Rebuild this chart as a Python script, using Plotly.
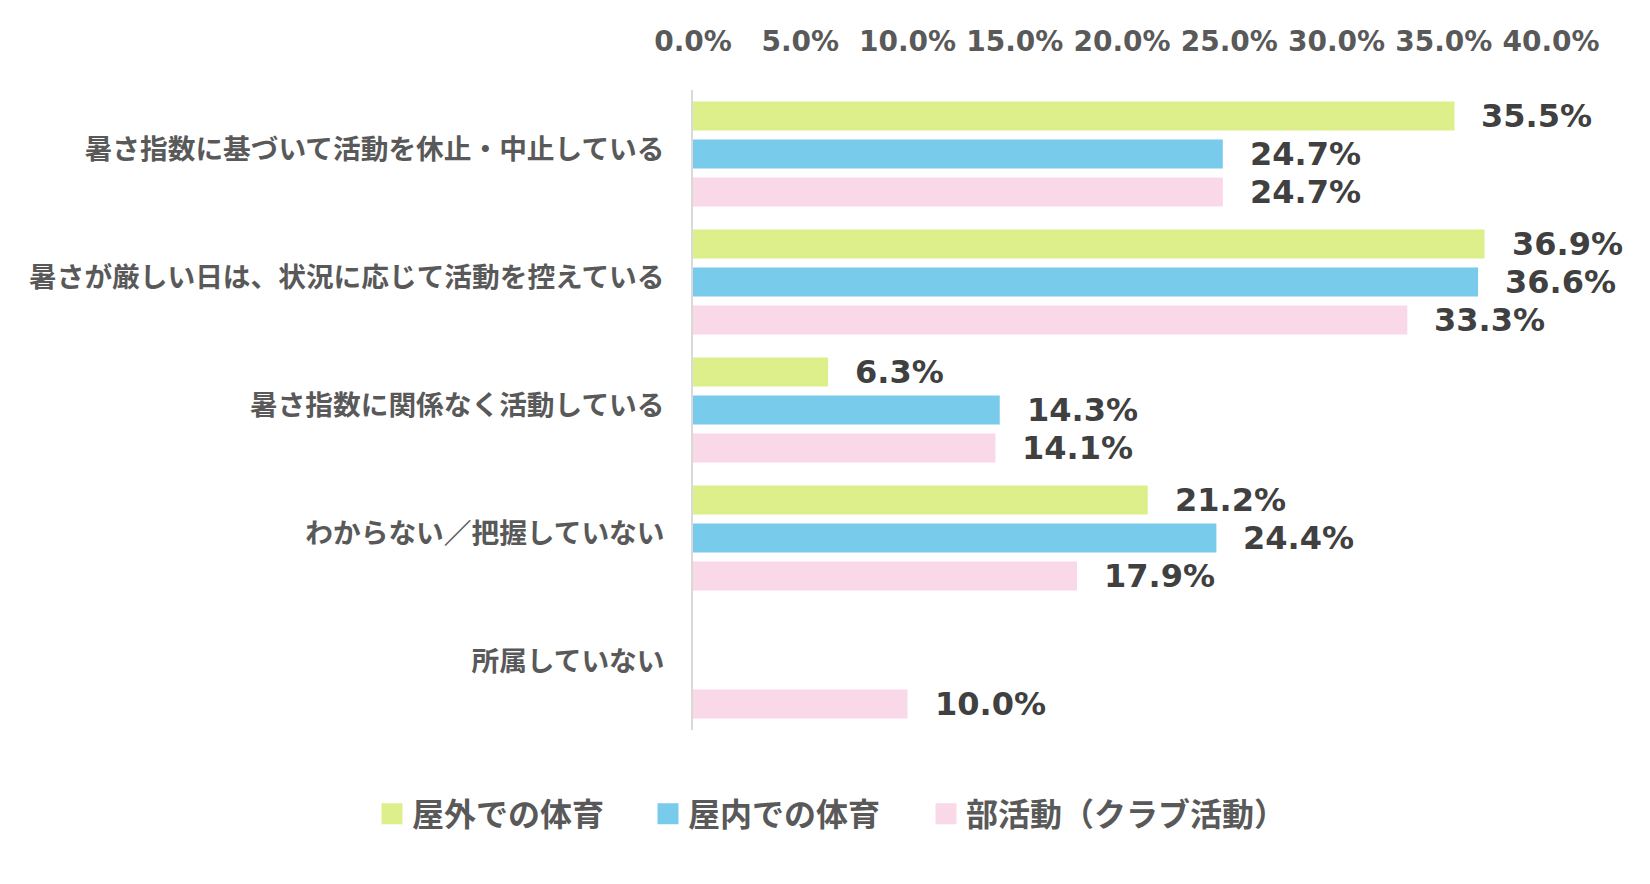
import plotly.graph_objects as go

# ---- data ----
categories = [
    "暑さ指数に基づいて活動を休止・中止している",
    "暑さが厳しい日は、状況に応じて活動を控えている",
    "暑さ指数に関係なく活動している",
    "わからない／把握していない",
    "所属していない",
]
series_names = ["屋外での体育", "屋内での体育", "部活動（クラブ活動）"]
outdoor_pe = [35.5, 36.9, 6.3, 21.2, None]
indoor_pe = [24.7, 36.6, 14.3, 24.4, None]
club_activity = [24.7, 33.3, 14.1, 17.9, 10.0]
tick_values = [0, 5, 10, 15, 20, 25, 30, 35, 40]
tick_labels = ["0.0%", "5.0%", "10.0%", "15.0%", "20.0%", "25.0%", "30.0%", "35.0%", "40.0%"]

# ---- style ----
colors = ["#DCEF8A", "#78CBEB", "#F9D8E7"]
num_font = "DejaVu Sans"
jp_font = "Noto Sans CJK JP"
label_color = "#404040"
axis_text_color = "#595959"
bar_pitch_px = 38
label_gap_px = 25
legend_ids = ["legend", "legend2", "legend3"]
legend_x_px = [364, 640, 918]
W, H = 1650, 884

series_values = [outdoor_pe, indoor_pe, club_activity]

fig = go.Figure()
for name, vals, col in zip(series_names, series_values, colors):
    fig.add_trace(go.Bar(
        y=categories, x=vals, orientation="h", name=name,
        marker=dict(color=col, line=dict(width=0)),
        showlegend=False, hoverinfo="x+name",
    ))

# legend entries (square symbols)
for name, col, lid in zip(series_names, colors, legend_ids):
    fig.add_trace(go.Scatter(
        x=[None], y=[None], mode="markers", name=name, legend=lid,
        marker=dict(symbol="square", size=16, color=col, line=dict(width=5, color=col)),
        showlegend=True, hoverinfo="skip",
    ))

# data labels
n = len(series_values)
for i, vals in enumerate(series_values):
    shift = ((n - 1) / 2 - i) * bar_pitch_px
    for cat, v in zip(categories, vals):
        if v is None:
            continue
        fig.add_annotation(
            x=v, y=cat, xref="x", yref="y", text=f"{v:.1f}%",
            showarrow=False, xanchor="left", yanchor="middle",
            xshift=label_gap_px, yshift=shift,
            font=dict(family=num_font, size=32, color=label_color, weight="bold"),
        )

legend_common = dict(
    orientation="h", xref="container", yref="container",
    xanchor="left", y=1 - 806 / H, yanchor="middle",
    font=dict(family=jp_font, size=32, color=axis_text_color, weight="bold"),
    itemclick=False, itemdoubleclick=False,
)
legend_layout = {lid: dict(legend_common, x=xp / W) for lid, xp in zip(legend_ids, legend_x_px)}

fig.update_layout(
    width=W, height=H,
    margin=dict(l=685, r=107, t=82, b=162),
    paper_bgcolor="white", plot_bgcolor="white",
    barmode="group", bargap=0.109, bargroupgap=0.237,
    xaxis=dict(
        side="top", range=[0, 40], tickvals=tick_values, ticktext=tick_labels,
        showgrid=False, zeroline=False, showline=False, ticks="",
        tickfont=dict(family=num_font, size=28, color=axis_text_color, weight="bold"),
        ticklabelstandoff=32, fixedrange=True,
    ),
    yaxis=dict(
        autorange="reversed", showgrid=False, zeroline=False,
        showline=True, linecolor="#D9D9D9", linewidth=2, ticks="",
        tickfont=dict(family=jp_font, size=27.7, color=axis_text_color, weight="bold"),
        ticklabelstandoff=21, ticklabelshift=5, fixedrange=True,
    ),
    **legend_layout,
)

fig.write_html("out.html")
